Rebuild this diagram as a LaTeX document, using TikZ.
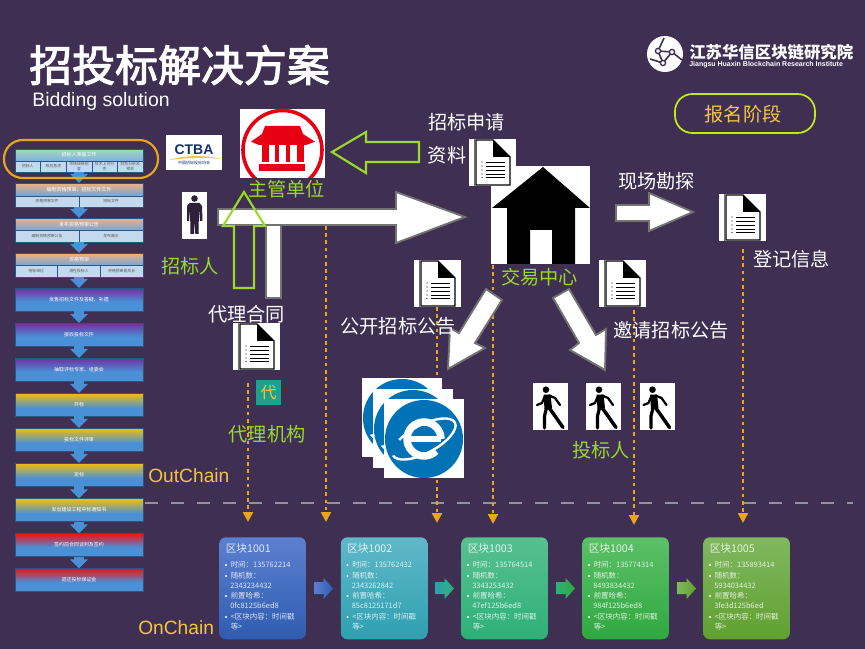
\documentclass[tikz,border=0pt]{standalone}
\usepackage{fontspec}
\setmainfont{Noto Sans CJK SC}
\newfontfamily\latfont{Liberation Sans}
\newfontfamily\titlefont[FakeBold=2.5]{Noto Sans CJK SC}
\usetikzlibrary{arrows.meta}
\definecolor{slidebg}{RGB}{63,47,82}
\definecolor{labelgreen}{RGB}{155,216,44}
\definecolor{chainorange}{RGB}{232,165,30}
\definecolor{chainyellow}{RGB}{244,197,66}
\definecolor{flowblue}{RGB}{74,144,214}
\definecolor{flowcellbg}{RGB}{197,217,238}
\definecolor{flowgreen}{RGB}{160,216,184}
\definecolor{flowpeach}{RGB}{240,176,128}
\definecolor{flowpurple}{RGB}{112,48,160}
\definecolor{flowgold}{RGB}{245,190,10}
\definecolor{flowred}{RGB}{240,16,24}
\definecolor{govred}{RGB}{230,0,18}
\definecolor{iceblue}{RGB}{0,114,181}
\definecolor{ctbanavy}{RGB}{20,50,110}
\definecolor{daiteal}{RGB}{30,160,140}
\definecolor{blockAtop}{RGB}{92,128,208}
\definecolor{blockAbot}{RGB}{47,92,176}
\definecolor{blockBtop}{RGB}{96,184,200}
\definecolor{blockBbot}{RGB}{46,160,176}
\definecolor{blockCtop}{RGB}{88,192,144}
\definecolor{blockCbot}{RGB}{46,176,120}
\definecolor{blockDtop}{RGB}{92,192,104}
\definecolor{blockDbot}{RGB}{48,168,64}
\definecolor{blockEtop}{RGB}{128,184,96}
\definecolor{blockEbot}{RGB}{96,160,48}
\pgfdeclareverticalshading{shadegreen}{100bp}{color(0bp)=(flowblue!70!white);color(25bp)=(flowblue!70!white);color(75bp)=(flowgreen);color(100bp)=(flowgreen)}
\pgfdeclareverticalshading{shadepeach}{100bp}{color(0bp)=(flowblue!80!white);color(25bp)=(flowblue!80!white);color(75bp)=(flowpeach);color(100bp)=(flowpeach)}
\pgfdeclareverticalshading{shadepurple}{100bp}{color(0bp)=(flowblue);color(25bp)=(flowblue);color(45bp)=(flowblue);color(75bp)=(flowpurple);color(100bp)=(flowpurple)}
\pgfdeclareverticalshading{shadegold}{100bp}{color(0bp)=(flowblue);color(25bp)=(flowblue);color(42bp)=(flowblue);color(75bp)=(flowgold);color(100bp)=(flowgold)}
\pgfdeclareverticalshading{shadered}{100bp}{color(0bp)=(flowblue);color(25bp)=(flowblue);color(45bp)=(flowblue);color(75bp)=(flowred);color(100bp)=(flowred)}
\tikzset{
  flowbar/.style={draw=flowblue!60!black,line width=.4pt,minimum width=96pt,inner sep=0pt,
    font=\fontsize{3.75}{4.2}\selectfont,text=white},
  flowcell/.style={draw=flowblue!60!black,line width=.3pt,fill=flowcellbg,minimum height=8.4pt,inner sep=0pt,
    align=center,font=\fontsize{2.9}{3.3}\selectfont,text=black!65},
  flowarrow/.style={draw=flowblue,line width=7.5pt,-{Triangle[width=13pt,length=6.8pt]}},
  whitetext/.style={text=white,inner sep=0pt,font=\fontsize{14.4}{16}\selectfont},
  greentext/.style={text=labelgreen,inner sep=0pt,font=\fontsize{14.4}{16}\selectfont},
  chaintext/.style={text=chainyellow,inner sep=0pt,font=\latfont\fontsize{14.4}{16}\selectfont},
  whitearrow/.style={fill=white,draw=black!55,line width=1.4pt,line join=miter},
  greenarrow/.style={draw=labelgreen,line width=1.6pt,line join=miter},
  chainline/.style={draw=chainorange,line width=1.7pt,dash pattern=on 2.7pt off 2.7pt,
    -{Triangle[width=7.5pt,length=7.5pt]}},
  blockbox/.style={anchor=north west,rounded corners=5pt,minimum width=65pt,minimum height=76.5pt,inner sep=0pt},
  blocktext/.style={anchor=west,inner sep=0pt,text=white,text opacity=.82,font=\fontsize{5.6}{7}\selectfont},
  docicon/.pic={
    \fill[white] (0,0) rectangle (47,47);
    \fill[black!55] (4.5,0) rectangle (5.5,47);
    \draw[black,line width=.9pt,line join=miter] (7,1) -- (24,1) -- (41,18) -- (41,46) -- (7,46) -- cycle;
    \fill[black] (24,1) -- (41,18) -- (24,18) -- cycle;
    \foreach \rowy in {23,27,31,35,38.5} {
      \draw[black,line width=.7pt] (17,\rowy) -- (36,\rowy);
      \fill[black] (13,\rowy) circle (.7);
    }
  },
  walkericon/.pic={
    \fill[white] (0,0) rectangle (35,47);
    \fill[black] (13,6.7) circle (3.3);
    \fill[black] (10.5,11.5) -- (17.5,11.5) -- (19,25) -- (11.5,26) -- cycle;
    \draw[black,line width=2.6pt,line cap=round,line join=round] (15.5,24) -- (22,33) -- (30,44.5);
    \draw[black,line width=2.4pt,line cap=round,line join=round] (13.5,25) -- (11.5,33) -- (11.5,45);
    \draw[black,line width=1.7pt,line cap=round,line join=round] (16,12.5) -- (22,15) -- (27,22);
    \draw[black,line width=1.7pt,line cap=round,line join=round] (12,13) -- (9,20) -- (4,22);
  },
  ieicon/.pic={
    \fill[white] (0,0) rectangle (80,79);
    \fill[iceblue] (40,40) circle (39);
    \draw[white,line width=1.8pt,rotate around={28:(40,40)}] (40,40) ellipse (35 and 14);
    \draw[iceblue,line width=3pt,rotate around={28:(40,40)}] (5,40) arc(180:230:35 and 14);
    \draw[white,line width=5.6pt] (57,40) arc(0:-315:17);
    \draw[white,line width=4.4pt] (24,40) -- (57,40);
  }
}
\newcommand{\flowsub}[4]{%
  \pgfmathsetmacro{\cellw}{128/#3}
  \foreach \celltxt [count=\i] in {#4} {
    \pgfmathsetmacro{\cellx}{15+(\i-0.5)*\cellw}
    \node[flowcell,minimum width=\cellw*0.75pt] (#1-\i) at (\cellx,#2) {\celltxt};
  }
}
\begin{document}
\begin{tikzpicture}[x=0.75pt,y=-0.75pt]
\useasboundingbox (0,0) rectangle (865,649);
\fill[slidebg] (0,0) rectangle (865,649);

%title and logo
\node[anchor=west,text=white,inner sep=0pt,font=\titlefont\fontsize{32.2}{36}\selectfont] (title) at (29,65) {招投标解决方案};
\node[anchor=west,text=white,inner sep=0pt,font=\latfont\fontsize{14.6}{16}\selectfont] (subtitle) at (32,101) {Bidding solution};
\fill[white] (665,54) circle (18);
\draw[slidebg,line width=1.2pt] (664,38) -- (658,51) -- (672,52) -- (663,63) -- (658,51);
\draw[slidebg,line width=1.2pt] (672,52) -- (682,60);
\draw[slidebg,line width=1.2pt] (663,63) -- (650,59);
\foreach \dotx/\doty in {658/51,672/52,663/63} {
  \fill[white,draw=slidebg,line width=1pt] (\dotx,\doty) circle (2.6);
}
\node[anchor=west,text=white,inner sep=0pt,font=\bfseries\fontsize{12.3}{14}\selectfont] (huaxin) at (689,52) {江苏华信区块链研究院};
\node[anchor=west,text=white,inner sep=0pt,font=\latfont\bfseries\fontsize{5.25}{6}\selectfont] (huaxinen) at (689,65) {Jiangsu Huaxin Blockchain Research Institute};

%stage box
\draw[draw=labelgreen!60!yellow,line width=1.3pt,rounded corners=13pt] (675,94) rectangle (815,133);
\node[text=chainyellow,inner sep=0pt,font=\fontsize{14.4}{16}\selectfont] (stage) at (743,114) {报名阶段};

%flow on the left
\node[flowbar,minimum height=8.7pt,shading=shadegreen] (f1) at (79,155) {招标人准备工作};
\flowsub{s1}{166.5}{5}{招标人,核应急项,{市场抉择招\\查},{技术上可行\\性},{财务分析及\\预测}}
\node[flowbar,minimum height=9.5pt,shading=shadepeach] (f2) at (79,189.5) {编制资格预审、招标文件文件};
\flowsub{s2}{201.5}{2}{资格预审文件,招标文件}
\node[flowbar,minimum height=9.5pt,shading=shadepeach] (f3) at (79,224.5) {发布资格预审公告};
\flowsub{s3}{236.3}{2}{编制资格预审公告,发布展示}
\node[flowbar,minimum height=9.5pt,shading=shadepeach] (f4) at (79,259.5) {资格预审};
\flowsub{s4}{271.2}{3}{招标单位,潜在投标人,资格预审委员会}
\foreach \flowid/\flowy/\flowshade/\flowtxt in {
  f5/299.5/shadepurple/发售招标文件及答疑、补遗,
  f6/334.5/shadepurple/接收投标文件,
  f7/369.5/shadepurple/抽取评标专家、组委会,
  f8/404.5/shadegold/开标,
  f9/439.5/shadegold/投标文件评审,
  f10/474.5/shadegold/定标,
  f11/510/shadegold/发出建设工程中标通知书,
  f12/545/shadered/签约前合同谈判及签约,
  f13/580/shadered/退还投标保证金} {
  \node[flowbar,minimum height=17pt,shading=\flowshade] (\flowid) at (79,\flowy) {\flowtxt};
}
\foreach \flowa/\flowb in {s1-3/f2,s2-1/f3,s3-1/f4,s4-2/f5,f5/f6,f6/f7,f7/f8,f8/f9,f9/f10,f10/f11,f11/f12,f12/f13} {
  \coordinate (fa) at (\flowa.south);
  \coordinate (fb) at (\flowb.north);
  \draw[flowarrow] (79,0 |- fa) -- (79,0 |- fb);
}
\draw[draw=chainorange,line width=1.6pt,rounded corners=14pt] (4,140) rectangle (158,178);

%dashed lines down to the chain
\draw[draw=black!42,line width=1.8pt,dash pattern=on 9.75pt off 9.75pt] (145,503) -- (853,503);
\foreach \dashid/\dashx/\dashtop/\dashend in {a/248/383/522,b/326/226/522,c/437/307/523,d/493/265/524,e/634/310/525,f/743/249/523} {
  \coordinate (dash\dashid top) at (\dashx,\dashtop);
  \coordinate (dash\dashid end) at (\dashx,\dashend);
  \draw[chainline] (dash\dashid top) -- (dash\dashid end);
}

%white arrows
\filldraw[whitearrow] (266,225) rectangle (281,298);
\filldraw[whitearrow] (218,209) -- (396,209) -- (396,192) -- (465,217) -- (396,243) -- (396,225) -- (218,225) -- cycle;
\filldraw[whitearrow] (616,205) -- (649,205) -- (649,193) -- (693,212) -- (649,231) -- (649,221) -- (616,221) -- cycle;
\filldraw[whitearrow] (553,298) -- (569,289) -- (596,335) -- (606,329) -- (605,370) -- (570,350) -- (579,343) -- cycle;
\filldraw[whitearrow] (486,289) -- (502,300) -- (475,343) -- (485,348) -- (448,369) -- (450,328) -- (459,333) -- cycle;

%green arrows
\draw[greenarrow] (419,142) -- (366,142) -- (366,132) -- (332,152) -- (366,173) -- (366,162) -- (419,162) -- cycle;
\draw[greenarrow] (234,288) -- (234,226) -- (223,226) -- (244,192) -- (265,226) -- (254,226) -- (254,288) -- cycle;

%ctba
\fill[white] (166,135) rectangle (222,170);
\node[text=ctbanavy,inner sep=0pt,font=\latfont\bfseries\fontsize{10.5}{11}\selectfont] (ctba) at (194,149.5) {CTBA};
\fill[chainyellow] (169,160) .. controls (185,155) and (205,155) .. (222,159) .. controls (205,157) and (185,158) .. (169,160) -- cycle;
\node[text=ctbanavy,inner sep=0pt,font=\fontsize{3}{3.5}\selectfont] (ctbacn) at (194,162.5) {中国招标投标协会};

%competent unit
\fill[white] (240,109) rectangle (325,178);
\begin{scope}
\clip (240,109) rectangle (325,178);
\draw[govred,line width=2.7pt] (282.5,150) circle (39.5);
\end{scope}
\fill[govred] (265,126) -- (300,126) -- (303,134) -- (315,141.7) -- (306,145) -- (259,145) -- (251,141.7) -- (262,134) -- cycle;
\foreach \colx/\colw in {262/7,275/4,286/4,297/7} {
  \fill[govred] (\colx,145) rectangle (\colx+\colw,162);
}
\fill[govred] (259,164.5) rectangle (305,171);

%tenderer
\fill[white] (182,192) rectangle (207,239);
\fill[slidebg!70!black] (194.5,198.5) circle (3.3);
\fill[slidebg!70!black] (189.5,203) -- (199.5,203) -- (202,206) -- (202.5,221) -- (200,221) -- (199,209) -- (198.5,234) -- (195.3,234) -- (194.7,220) -- (194,234) -- (190.5,234) -- (190,209) -- (189,221) -- (187,221) -- (187,206) -- cycle;

%trading centre
\fill[white] (491,166) rectangle (590,264);
\fill[black] (543,167) -- (590,208) -- (575,208) -- (575,264) -- (552,264) -- (552,230) -- (530,230) -- (530,264) -- (507,264) -- (507,208) -- (492,208) -- cycle;

%documents
\pic (docapply) at (469,139) {docicon};
\pic (docsite) at (719,194) {docicon};
\pic (docinvite) at (599,260) {docicon};
\pic (docpublic) at (414,260) {docicon};
\pic (docagent) at (233,323) {docicon};

%browsers and bidders
\pic (iea) at (362,378) {ieicon};
\pic (ieb) at (373,389) {ieicon};
\pic (iec) at (384,399) {ieicon};
\pic (walka) at (533,383) {walkericon};
\pic (walkb) at (586,383) {walkericon};
\pic (walkc) at (639.5,383) {walkericon};

%agent
\node[fill=daiteal,text=chainyellow,minimum size=18.7pt,inner sep=0pt,font=\fontsize{12}{14}\selectfont] (dai) at (268.5,392.5) {代};

%labels
\foreach \lblid/\lblx/\lbly/\lbltxt in {
  apply/466.5/122/招标申请,
  data/447/155/资料,
  site/656.5/181/现场勘探,
  regi/791.5/259/登记信息,
  invite/671/330/邀请招标公告,
  public/398/326/公开招标公告,
  contract/246.5/314/代理合同} {
  \node[whitetext] (lbl\lblid) at (\lblx,\lbly) {\lbltxt};
}
\foreach \lblid/\lblx/\lbly/\lbltxt in {
  unit/286.5/189/主管单位,
  tender/190/266/招标人,
  proxy/267/434/代理机构,
  centre/539.5/277/交易中心,
  bidder/601/450/投标人} {
  \node[greentext] (lbl\lblid) at (\lblx,\lbly) {\lbltxt};
}
\node[chaintext,anchor=west] (outchain) at (148,476) {OutChain};
\node[chaintext,anchor=west] (onchain) at (138,628) {OnChain};

%blocks
\foreach \bname/\bx/\bcol/\btime/\brand/\bhash in {
  1001/219/blockA/135762214/2343234432/0fc8125b6ed8,
  1002/340.5/blockB/135762432/2343262842/85c8125171d7,
  1003/461/blockC/135764514/3343253432/47ef125b6ed8,
  1004/582/blockD/135774314/8493834432/984f125b6ed8,
  1005/703/blockE/135893414/5934034432/3fe3d125b6ed} {
  \begin{scope}[shift={(\bx,0)}]
  \node[blockbox,top color=\bcol top,bottom color=\bcol bot] (block\bname) at (0,537) {};
  \node[blocktext,font=\fontsize{8}{9}\selectfont] (title\bname) at (6.5,549) {区块\bname};
  \foreach \doty in {565,576,596,617} {
    \fill[white] (7,\doty) circle (1.1);
  }
  \node[blocktext] (time\bname) at (11.5,565) {时间：\btime};
  \node[blocktext] (randa\bname) at (11.5,576) {随机数：};
  \node[blocktext] (randb\bname) at (11,586) {\brand};
  \node[blocktext] (hasha\bname) at (11.5,596) {前置哈希：};
  \node[blocktext] (hashb\bname) at (11,606) {\bhash};
  \node[blocktext] (texta\bname) at (11.5,617) {<区块内容：时间戳};
  \node[blocktext] (textb\bname) at (11.5,627) {等>};
  \end{scope}
}
\foreach \ax/\acola/\acolb in {314/blockAtop/blockAbot,435/blockBbot/blockCbot,556/blockCbot/blockDbot,677/blockEtop/blockEbot} {
  \shade[left color=\acola,right color=\acolb] (\ax,582) -- (\ax+9.5,582) -- (\ax+9.5,578) -- (\ax+19,588.5) -- (\ax+9.5,599) -- (\ax+9.5,594) -- (\ax,594) -- cycle;
}
\end{tikzpicture}
\end{document}
